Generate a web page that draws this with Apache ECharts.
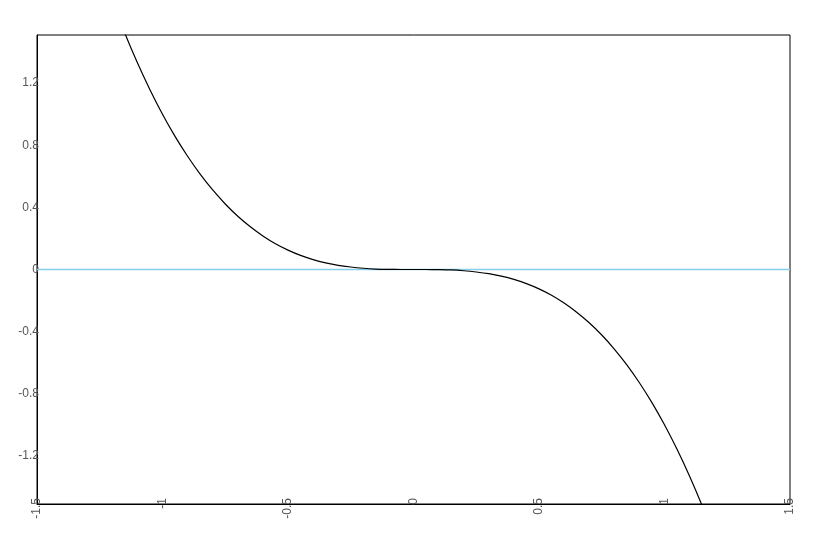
<!DOCTYPE html>
<html><head><meta charset="utf-8">
<script src="https://cdn.jsdelivr.net/npm/echarts@6/dist/echarts.min.js"></script>
<style>html,body{margin:0;padding:0;background:#fff}#c{width:826px;height:540px}</style>
</head><body><div id="c"></div>
<script>
const xValues = [-1.2,-1.15,-1.1,-1.05,-1.0,-0.95,-0.9,-0.85,-0.8,-0.75,-0.7,-0.65,-0.6,-0.55,-0.5,-0.45,-0.4,-0.35,-0.3,-0.25,-0.2,-0.15,-0.1,-0.05,0,
  0.05,0.1,0.15,0.2,0.25,0.3,0.35,0.4,0.45,0.5,0.55,0.6,0.65,0.7,0.75,0.8,0.85,0.9,0.95,1.0,1.05,1.1,1.15,1.2];
const curveValues = [1.728,1.521,1.331,1.158,1.0,0.857,0.729,0.614,0.512,0.422,0.343,0.275,0.216,0.166,0.125,0.091,0.064,0.043,0.027,0.016,0.008,0.003,0.001,0.0001,0,
  -0.0001,-0.001,-0.003,-0.008,-0.016,-0.027,-0.043,-0.064,-0.091,-0.125,-0.166,-0.216,-0.275,-0.343,-0.422,-0.512,-0.614,-0.729,-0.857,-1.0,-1.158,-1.331,-1.521,-1.728];
const baselineX = [-1.5, 1.5];
const baselineY = [0, 0];
const yTickValues = [-1.2,-0.8,-0.4,0,0.4,0.8,1.2];

const chart = echarts.init(document.getElementById('c'));
chart.setOption({
  animation: false,
  grid: {left: 37, right: 36, top: 35, bottom: 36, show: true, borderColor: '#000', borderWidth: 1, backgroundColor: 'transparent'},
  xAxis: {
    type: 'value', min: -1.5, max: 1.5, interval: 0.5,
    axisLine: {show: true, onZero: false, lineStyle: {color: '#000', width: 1}},
    axisTick: {show: false},
    splitLine: {show: false},
    axisLabel: {rotate: 90, margin: -6, color: '#555', fontSize: 12, fontFamily: 'Liberation Sans, Arial, sans-serif', showMinLabel: true, showMaxLabel: true}
  },
  yAxis: {
    type: 'value', min: -1.51, max: 1.51,
    axisLine: {show: true, onZero: false, lineStyle: {color: '#000', width: 1}},
    axisTick: {show: false},
    splitLine: {show: false},
    axisLabel: {customValues: yTickValues, margin: -2, color: '#555', fontSize: 12, fontFamily: 'Liberation Sans, Arial, sans-serif'}
  },
  series: [
    {type: 'line', data: baselineX.map((x, i) => [x, baselineY[i]]), symbol: 'none', lineStyle: {color: '#87CEEB', width: 1.5}, z: 2},
    {type: 'line', data: xValues.map((x, i) => [x, curveValues[i]]), symbol: 'none', smooth: 0.3, clip: true, lineStyle: {color: '#000', width: 1.2}, z: 3}
  ]
});
</script></body></html>
